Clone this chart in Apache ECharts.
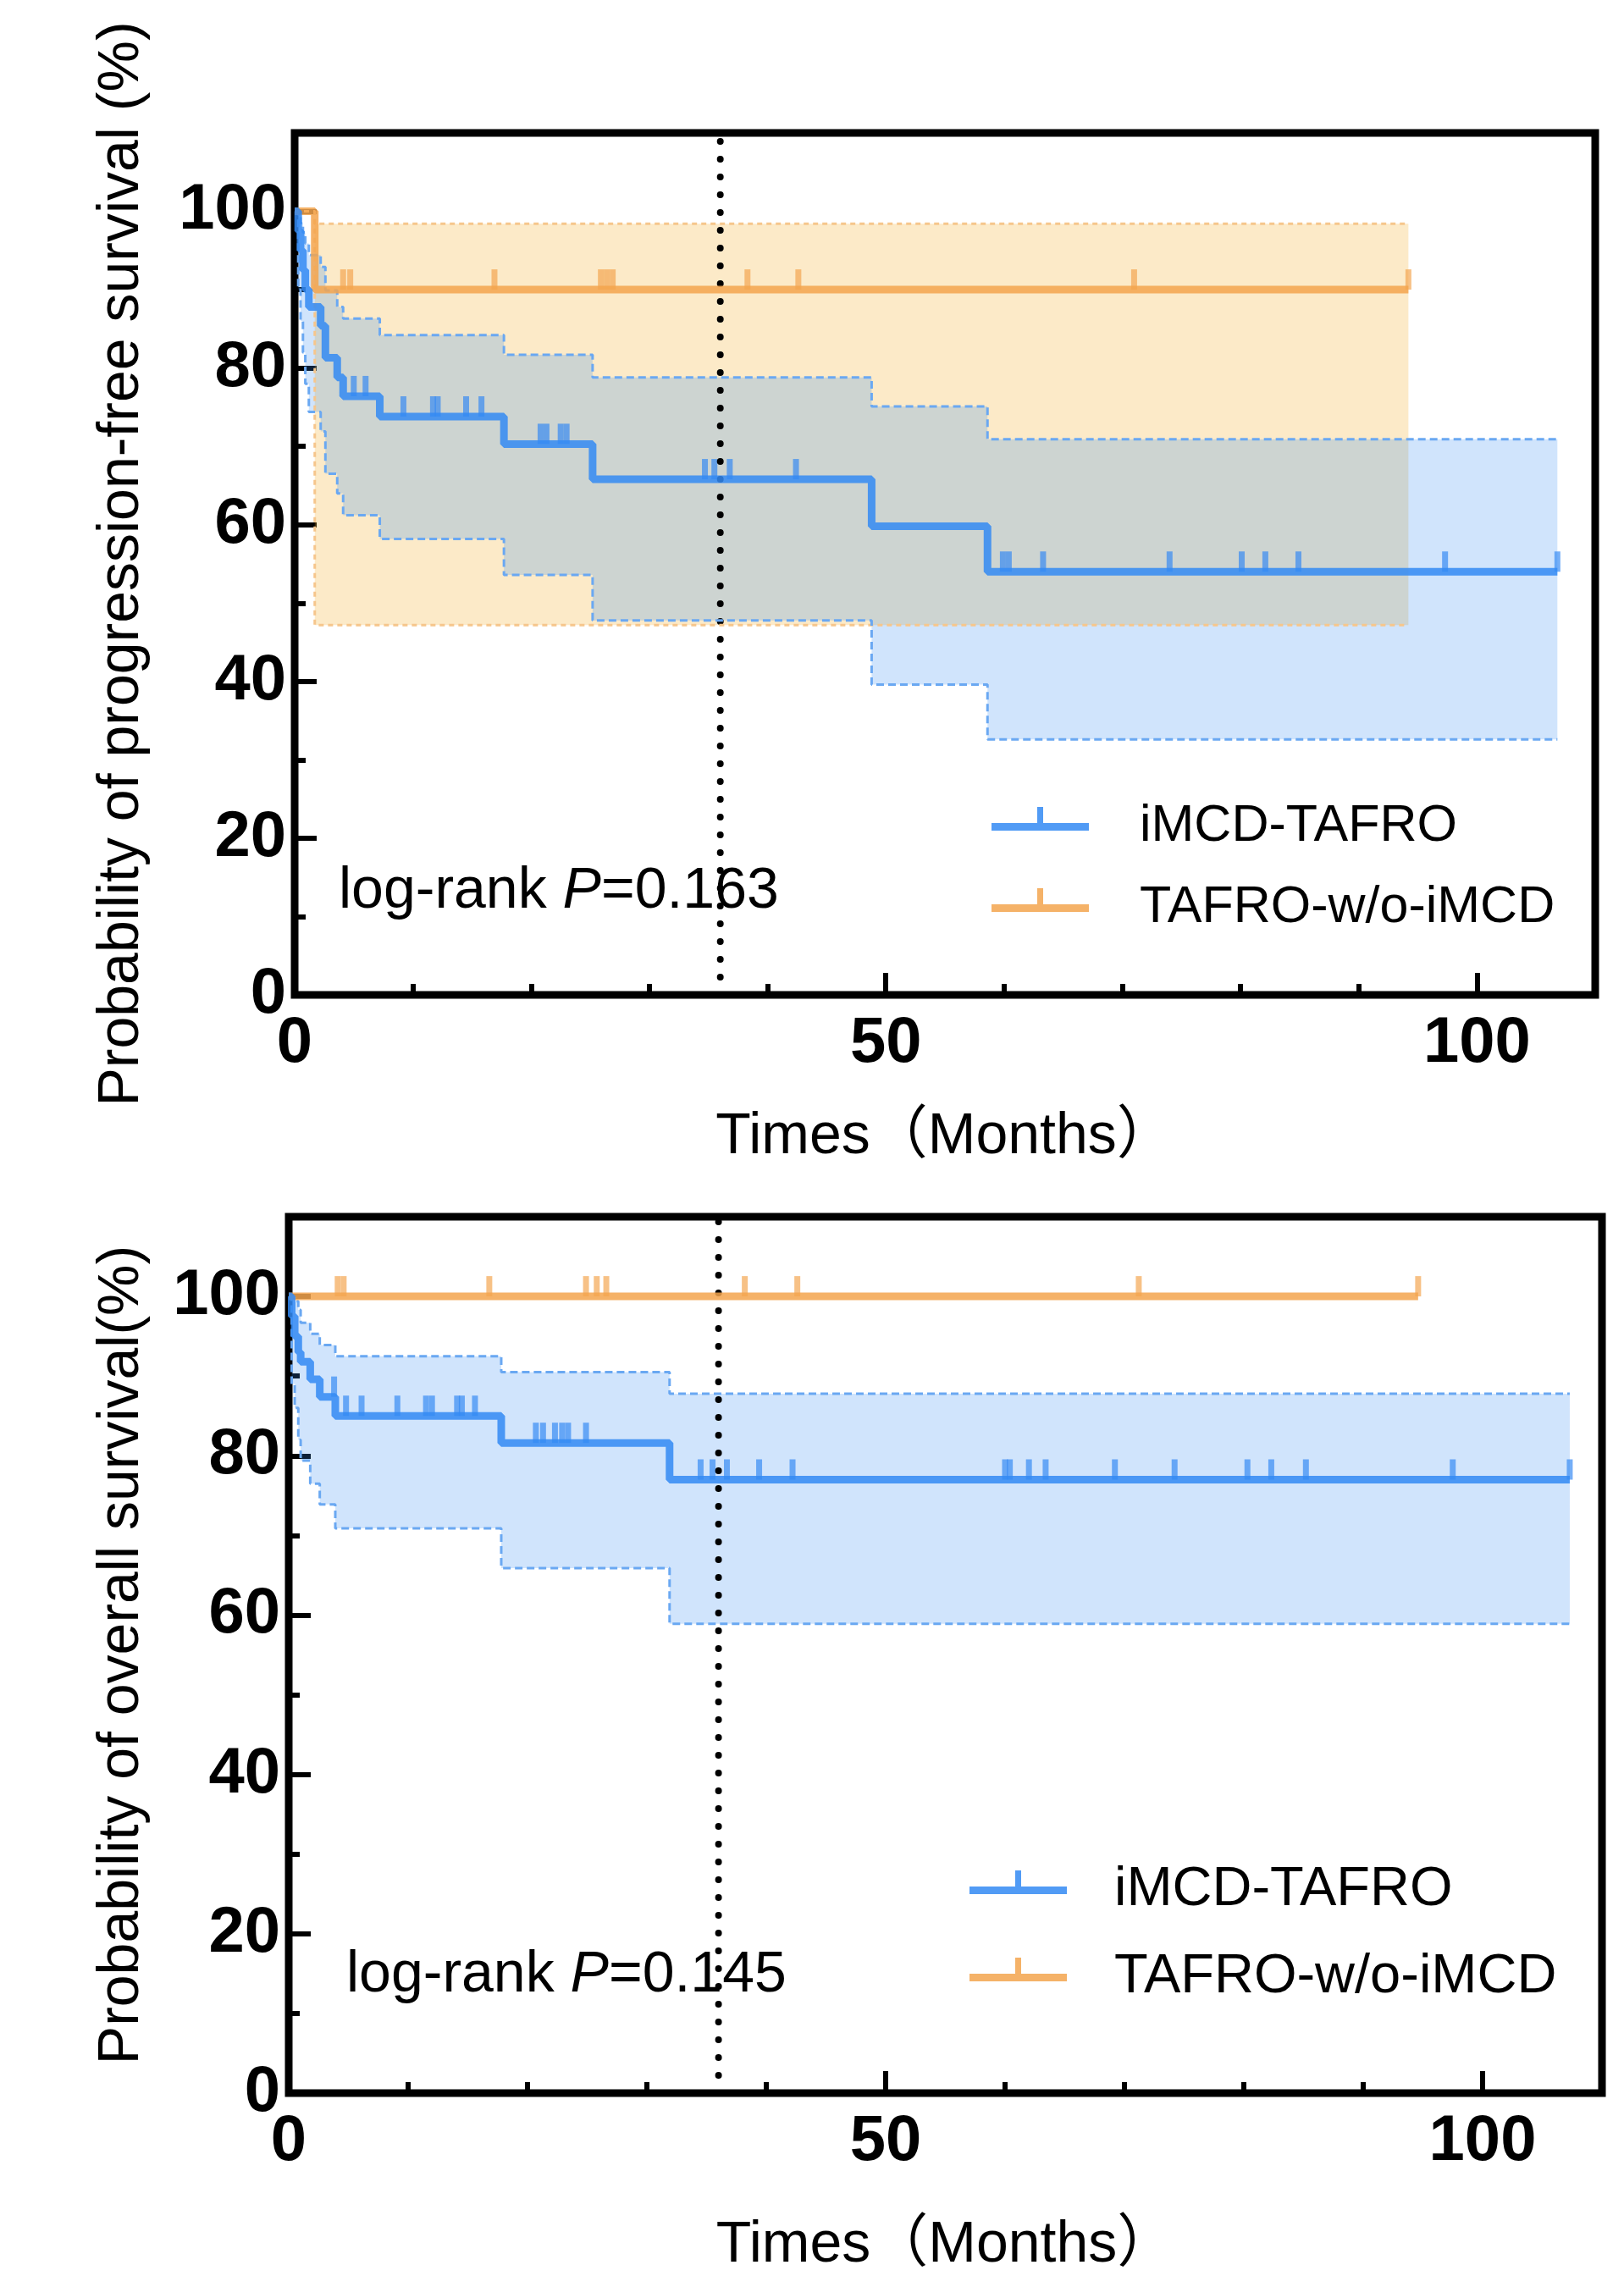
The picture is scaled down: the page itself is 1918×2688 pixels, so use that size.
<!DOCTYPE html>
<html>
<head>
<meta charset="utf-8">
<title>PFS / OS</title>
<script src="https://cdn.jsdelivr.net/npm/echarts@6.0.0/dist/echarts.min.js"></script>
<style>
  html, body { margin: 0; padding: 0; background: #fff; }
  #main { width: 1918px; height: 2688px; }
</style>
</head>
<body>
<div id="main"></div>
<script>
// top panel: progression-free survival (months, %)
const pfsBlueTime  = [0, 0.3, 0.5, 0.7, 0.9, 1.2, 2.2, 2.6, 3.6, 4.1, 7.2, 17.7, 25.2, 48.8, 58.6, 106.8];
const pfsBlueSurv  = [100, 97.5, 95.0, 92.5, 90.0, 87.8, 85.4, 81.3, 78.8, 76.4, 73.8, 70.3, 65.8, 59.8, 54.0, 54.0];
const pfsBlueUpper = [100, 99.6, 98.5, 97.3, 95.9, 94.4, 92.9, 89.9, 87.8, 86.3, 84.2, 81.7, 78.8, 75.1, 70.9, 70.9];
const pfsBlueLower = [100, 90.0, 86.0, 82.0, 78.0, 74.4, 71.9, 66.5, 64.0, 61.2, 58.2, 53.6, 47.8, 39.6, 32.6, 32.6];
const pfsBlueCensor = [5.0, 6.0, 9.2, 11.7, 12.1, 14.5, 15.8, 20.8, 21.3, 22.5, 23.0, 34.7, 35.5, 36.8, 42.4,
  59.9, 60.4, 63.3, 74.0, 80.1, 82.1, 84.9, 97.3, 106.8];

const pfsOrangeTime  = [0, 1.7, 94.2];
const pfsOrangeSurv  = [100, 90, 90];
const pfsOrangeUpper = [100, 98.4, 98.4];
const pfsOrangeLower = [100, 47.2, 47.2];
const pfsOrangeCensor = [4.1, 4.7, 16.9, 25.9, 26.4, 26.9, 38.3, 42.6, 71.0, 94.2];

// bottom panel: overall survival
const osBlueTime  = [0, 0.25, 0.5, 0.8, 1.0, 1.8, 2.6, 3.9, 17.8, 31.9, 107.3];
const osBlueSurv  = [100, 97.5, 95.0, 93.0, 91.8, 89.6, 87.4, 85.0, 81.6, 77.0, 77.0];
const osBlueUpper = [100, 99.9, 99.4, 98.3, 96.7, 95.3, 93.9, 92.5, 90.5, 87.8, 87.8];
const osBlueLower = [100, 89.0, 86.0, 82.0, 79.4, 76.5, 73.9, 70.9, 65.9, 58.9, 58.9];
const osBlueCensor = [3.8, 4.8, 6.1, 9.1, 11.5, 12.0, 14.1, 14.5, 15.6, 20.7, 21.3, 22.3, 22.9, 23.4, 24.9,
  34.5, 35.5, 36.7, 39.4, 42.2, 60.0, 60.4, 62.0, 63.4, 69.2, 74.2, 80.3, 82.3, 85.2, 97.5, 107.3];

const osOrangeTime = [0, 94.6];
const osOrangeSurv = [100, 100];
const osOrangeCensor = [4.1, 4.6, 16.8, 24.9, 25.8, 26.6, 38.2, 42.6, 71.2, 94.6];

const groupNames = ['iMCD-TAFRO', 'TAFRO-w/o-iMCD'];
const cutoffMonth = 36;
const pfsP = '0.163';
const osP = '0.145';

const FONT = "'Liberation Sans', Arial, Helvetica, 'Noto Sans CJK SC', sans-serif";
const BLUE = 'rgba(51,137,243,0.85)';
const ORANGE = 'rgba(243,164,78,0.85)';
// legend mark: line with a censor tick; the empty last piece keeps the line at the icon centre
const ICON = 'path://M0,19L115,19L115,28L0,28Z M54,0L61,0L61,19L54,19Z M57,47L58,47Z';

const BLUE_FILL = 'rgba(50,140,240,0.23)';
const ORANGE_FILL = 'rgba(245,170,35,0.25)';
const BLUE_EDGE = '#6aa8f2';
const ORANGE_EDGE = '#f6c68c';

function pairs(times, vals) {
  return times.map((t, i) => [t, vals[i]]);
}
// value of a KM step curve at time t
function stepAt(times, vals, t) {
  let v = vals[0];
  for (let i = 0; i < times.length; i++) {
    if (times[i] <= t) v = vals[i];
  }
  return v;
}

function dotted(g) {
  return {
    type: 'line', xAxisIndex: 2 * g, yAxisIndex: 2 * g, symbol: 'none', silent: true,
    data: [[cutoffMonth, 0], [cutoffMonth, 110]],
    lineStyle: { color: '#000', width: 8, type: [0, 21], cap: 'round' }
  };
}

// filled step band between lower and upper, drawn as one polygon
function bandArea(g, times, upper, lower, fill) {
  return {
    type: 'custom', xAxisIndex: 2 * g, yAxisIndex: 2 * g, silent: true, clip: true,
    data: times.map((t, i) => [t, lower[i], upper[i]]),
    encode: { x: 0, y: [1, 2] },
    renderItem: function (params, api) {
      if (params.dataIndex !== 0) return null;
      const n = params.dataInsideLength;
      const pts = [];
      for (let i = 0; i < n; i++) {
        if (i > 0) pts.push(api.coord([api.value(0, i), api.value(2, i - 1)]));
        pts.push(api.coord([api.value(0, i), api.value(2, i)]));
      }
      for (let i = n - 1; i >= 0; i--) {
        pts.push(api.coord([api.value(0, i), api.value(1, i)]));
        if (i > 0) pts.push(api.coord([api.value(0, i), api.value(1, i - 1)]));
      }
      return { type: 'polygon', shape: { points: pts }, style: { fill: fill } };
    }
  };
}

function bandEdge(g, times, vals, color, dash) {
  return {
    type: 'line', xAxisIndex: 2 * g, yAxisIndex: 2 * g, step: 'end', symbol: 'none', silent: true,
    data: pairs(times, vals),
    lineStyle: { color: color, width: 3, type: dash }
  };
}

function band(g, times, upper, lower, fill, edge, dash) {
  return [
    bandArea(g, times, upper, lower, fill),
    bandEdge(g, times, lower, edge, dash),
    bandEdge(g, times, upper, edge, dash)
  ];
}

function curve(name, g, times, surv, color) {
  return {
    name: name, type: 'line', xAxisIndex: 2 * g, yAxisIndex: 2 * g, step: 'end', symbol: 'none',
    data: pairs(times, surv), color: color,
    lineStyle: { color: color, width: 9 }
  };
}

function censor(name, g, times, surv, marks, color) {
  return {
    name: name, type: 'scatter', xAxisIndex: 2 * g, yAxisIndex: 2 * g,
    symbol: 'rect', symbolSize: [7, 24], symbolOffset: [0, -12],
    itemStyle: { color: color },
    data: marks.map(t => [t, stepAt(times, surv, t)])
  };
}

function xAxes(g, nameGap) {
  return [
    {
      gridIndex: g, type: 'value', position: 'bottom', min: 0, max: 110, interval: 50,
      axisLine: { show: false },
      axisTick: { inside: true, length: 26, lineStyle: { color: '#000', width: 6 } },
      axisLabel: { fontSize: 76, fontWeight: 'bold', fontFamily: FONT, color: '#000', margin: 20, showMaxLabel: false },
      splitLine: { show: false },
      name: 'Times（Months）', nameLocation: 'middle', nameGap: nameGap,
      nameTextStyle: { fontSize: 68, fontFamily: FONT, color: '#000' }
    },
    {
      gridIndex: g, type: 'value', position: 'bottom', min: 0, max: 110, interval: 10,
      axisLine: { show: false },
      axisTick: { inside: true, length: 13, lineStyle: { color: '#000', width: 6 } },
      axisLabel: { show: false },
      splitLine: { show: false }
    }
  ];
}

function yAxes(g, name, nameGap) {
  return [
    {
      gridIndex: g, type: 'value', position: 'left', min: 0, max: 110, interval: 20,
      axisLine: { show: false },
      axisTick: { inside: true, length: 26, lineStyle: { color: '#000', width: 6 } },
      axisLabel: {
        fontSize: 76, fontWeight: 'bold', fontFamily: FONT, color: '#000', margin: 10,
        showMaxLabel: false, lineHeight: 90, verticalAlign: 'middle', padding: [14, 0, 0, 0]
      },
      splitLine: { show: false },
      name: name, nameLocation: 'middle', nameGap: nameGap, nameRotate: 90,
      nameTextStyle: { fontSize: 68, fontFamily: FONT, color: '#000' }
    },
    {
      gridIndex: g, type: 'value', position: 'left', min: 0, max: 110, interval: 10,
      axisLine: { show: false },
      axisTick: { inside: true, length: 13, lineStyle: { color: '#000', width: 6 } },
      axisLabel: { show: false },
      splitLine: { show: false }
    }
  ];
}

function legend(left, top, size, gap, textPad) {
  return {
    left: left, top: top, orient: 'vertical', padding: 0, selectedMode: false,
    itemWidth: 115, itemHeight: 47, itemGap: gap,
    itemStyle: { borderWidth: 0 },
    textStyle: { fontSize: size, fontFamily: FONT, color: '#000', padding: [0, 0, 0, textPad] },
    data: [
      { name: groupNames[0], icon: ICON, itemStyle: { color: BLUE } },
      { name: groupNames[1], icon: ICON, itemStyle: { color: ORANGE } }
    ]
  };
}

function pText(left, top, p) {
  return {
    text: 'log-rank {i|P}=' + p, left: left, top: top, padding: 0,
    textStyle: {
      fontSize: 68, fontWeight: 'normal', fontFamily: FONT, color: '#000', lineHeight: 68,
      rich: { i: { fontStyle: 'italic', fontSize: 68, fontFamily: FONT, color: '#000', lineHeight: 68 } }
    }
  };
}

const myChart = echarts.init(document.getElementById('main'));
myChart.setOption({
  animation: false,
  backgroundColor: '#fff',
  title: [pText(400, 1019, pfsP), pText(409, 2299, osP)],
  legend: [legend(1171, 946, 61, 35, 55), legend(1145, 2200, 65, 38, 51)],
  grid: [
    { left: 348, top: 157, width: 1536, height: 1018, show: true, borderColor: '#000', borderWidth: 9, backgroundColor: 'transparent' },
    { left: 341, top: 1437, width: 1551, height: 1035, show: true, borderColor: '#000', borderWidth: 9, backgroundColor: 'transparent' }
  ],
  xAxis: [].concat(xAxes(0, 134), xAxes(1, 146)),
  yAxis: [].concat(
    yAxes(0, 'Probability of progression-free survival (%)', 170),
    yAxes(1, 'Probability of overall survival(%)', 163)
  ),
  series: [].concat(
    dotted(0),
    band(0, pfsOrangeTime, pfsOrangeUpper, pfsOrangeLower, ORANGE_FILL, ORANGE_EDGE, [6, 5]),
    band(0, pfsBlueTime, pfsBlueUpper, pfsBlueLower, BLUE_FILL, BLUE_EDGE, [9, 5]),
    curve(groupNames[1], 0, pfsOrangeTime, pfsOrangeSurv, ORANGE),
    curve(groupNames[0], 0, pfsBlueTime, pfsBlueSurv, BLUE),
    censor(groupNames[1], 0, pfsOrangeTime, pfsOrangeSurv, pfsOrangeCensor, ORANGE),
    censor(groupNames[0], 0, pfsBlueTime, pfsBlueSurv, pfsBlueCensor, BLUE),

    dotted(1),
    band(1, osBlueTime, osBlueUpper, osBlueLower, BLUE_FILL, BLUE_EDGE, [9, 5]),
    curve(groupNames[1], 1, osOrangeTime, osOrangeSurv, ORANGE),
    curve(groupNames[0], 1, osBlueTime, osBlueSurv, BLUE),
    censor(groupNames[1], 1, osOrangeTime, osOrangeSurv, osOrangeCensor, ORANGE),
    censor(groupNames[0], 1, osBlueTime, osBlueSurv, osBlueCensor, BLUE)
  )
});

window.addEventListener('resize', () => {
  myChart.resize();
});
</script>
</body>
</html>
